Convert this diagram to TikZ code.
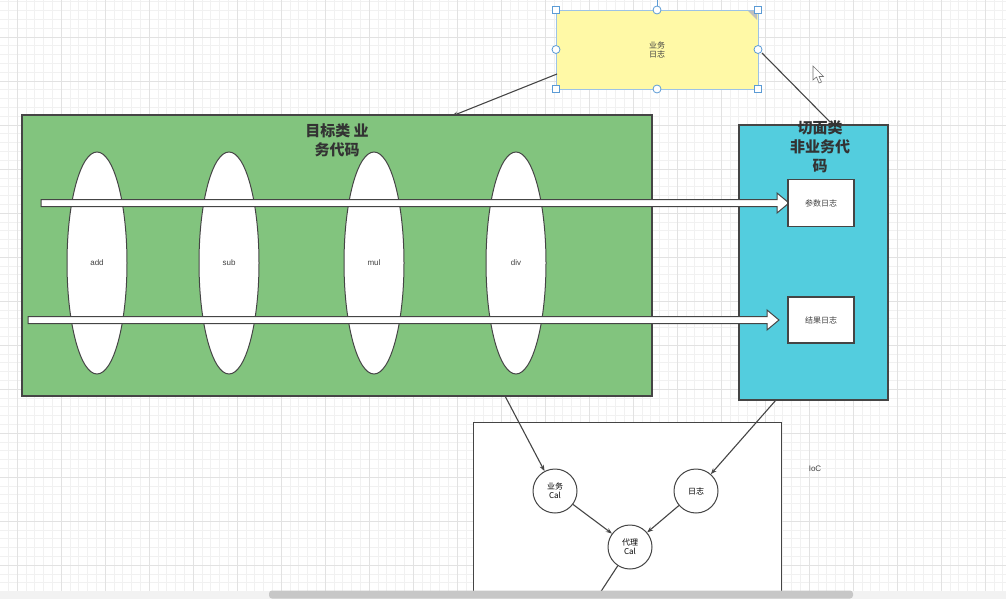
\documentclass[tikz,border=0pt]{standalone}
\usepackage{fontspec}
\setmainfont{Liberation Sans}
\newfontfamily\cjk{Noto Sans CJK SC}
\usetikzlibrary{arrows.meta}
\definecolor{gridminor}{HTML}{F1F1F1}
\definecolor{gridmajor}{HTML}{E2E2E2}
\definecolor{greenbox}{HTML}{82C47E}
\definecolor{cyanbox}{HTML}{53CDDE}
\definecolor{yellowbox}{HTML}{FFF9A6}
\definecolor{edge}{HTML}{454545}
\definecolor{handle}{HTML}{5B9BD5}
\tikzset{
  conn/.style={draw=edge, line width=1.1pt, -{Stealth[length=6pt,width=4.5pt]}},
  plainconn/.style={draw=edge, line width=1.1pt},
  bigbox/.style={draw=edge, line width=1.2pt},
  oval/.style={draw=edge, fill=white, line width=1pt},
  whitebox/.style={draw=edge, fill=white, line width=1.2pt},
  circ/.style={circle, draw=edge, fill=white, line width=1pt, minimum size=44pt, inner sep=0pt, align=center, font=\fontsize{8}{9}\selectfont\cjk},
  small/.style={font=\fontsize{8}{9}\selectfont\cjk, text=black!75, align=center},
  title/.style={font=\fontsize{15}{19}\selectfont\cjk\bfseries, text=black!80, align=center},
  hollow/.style={draw=edge, fill=white, line width=1pt},
  sqh/.style={draw=handle, fill=white, line width=0.8pt},
}
\begin{document}
\begin{tikzpicture}[x=1pt,y=-1pt]
\useasboundingbox (0,0) rectangle (1006,599);
\clip (0,0) rectangle (1006,599);
\fill[white] (0,0) rectangle (1006,599);
% grid
\foreach \i in {0,...,118} {
  \pgfmathsetmacro\gx{-27+8.8*\i}
  \draw[gridminor, line width=0.6pt] (\gx,0) -- (\gx,599);
}
\foreach \i in {0,...,70} {
  \pgfmathsetmacro\gy{-7+8.8*\i}
  \draw[gridminor, line width=0.6pt] (0,\gy) -- (1006,\gy);
}
\foreach \i in {0,...,24} {
  \pgfmathsetmacro\gx{-27+44*\i}
  \draw[gridmajor, line width=0.8pt] (\gx,0) -- (\gx,599);
}
\foreach \i in {0,...,14} {
  \pgfmathsetmacro\gy{-7+44*\i}
  \draw[gridmajor, line width=0.8pt] (0,\gy) -- (1006,\gy);
}

% green target class box
\draw[bigbox, fill=greenbox] (22,115) rectangle (652,396);
\node[title] (gtitle) at (337,140) {目标类 业\\务代码};
\coordinate (gtop) at (452,116);
\coordinate (gbot) at (505,396);

% ellipses
\draw[oval] (97,263) ellipse [x radius=30, y radius=111];
\draw[oval] (229,263) ellipse [x radius=30, y radius=111];
\draw[oval] (374,263) ellipse [x radius=30, y radius=111];
\draw[oval] (516,263) ellipse [x radius=30, y radius=111];
\node[small, font=\fontsize{8}{9}\selectfont] (add) at (97,263) {add};
\node[small, font=\fontsize{8}{9}\selectfont] (sub) at (229,263) {sub};
\node[small, font=\fontsize{8}{9}\selectfont] (mul) at (374,263) {mul};
\node[small, font=\fontsize{8}{9}\selectfont] (div) at (516,263) {div};

% cyan aspect box
\draw[bigbox, fill=cyanbox] (739,125) rectangle (888,400);
\node[title] (ctitle) at (820,147) {切面类\\非业务代\\码};
\coordinate (ctop) at (830,122);
\coordinate (cbot) at (776,400);

% hollow arrows
\draw[hollow] (41,199.5) -- (777,199.5) -- (777,193) -- (789,203) -- (777,213) -- (777,206.5) -- (41,206.5) -- cycle;
\draw[hollow] (28,316.5) -- (767,316.5) -- (767,310) -- (779,320) -- (767,330) -- (767,323.5) -- (28,323.5) -- cycle;

\node[whitebox, minimum width=66pt, minimum height=47pt, small] (param) at (821,203) {参数日志};
\node[whitebox, minimum width=66pt, minimum height=46pt, small] (result) at (821,320) {结果日志};

% yellow note box
\node[draw=handle!60, fill=yellowbox, line width=0.6pt, minimum width=202pt, minimum height=79pt, small] (biz) at (657,49.5) {业务\\日志};
\fill[black!25] (748,11) -- (757,11) -- (757,20) -- cycle;
\draw[handle, line width=0.8pt] (657,0) -- (657,10);
\foreach \p in {(556,10),(758,10),(556,89),(758,89)} {
  \draw[sqh] \p ++(-3.5,-3.5) rectangle ++(7,7);
}
\foreach \p in {(657,10),(657,89),(556,49.5),(758,49.5)} {
  \draw[sqh] \p circle (4);
}
\coordinate (bizL) at (557,74);
\coordinate (bizR) at (762,53);

% connectors from note
\draw[conn] (bizL) -- (gtop);
\draw[plainconn] (bizR) -- (ctop);

% IoC container box
\draw[bigbox, fill=white, line width=1pt] (473,422) rectangle (781,610);
\node[circ] (bcal) at (555,491) {业务\\Cal};
\node[circ] (log) at (696,491) {日志};
\node[circ] (pcal) at (630,547) {代理\\Cal};
\coordinate (pend) at (598,596);
\node[small, font=\fontsize{8}{9}\selectfont] (ioc) at (815,469) {IoC};

\draw[conn] (gbot) -- (bcal);
\draw[conn] (cbot) -- (log);
\draw[conn] (bcal) -- (pcal);
\draw[conn] (log) -- (pcal);
\draw[plainconn] (pcal) -- (pend);

% mouse cursor
\draw[fill=white, draw=black!55, line width=0.6pt] (813,66) -- (813,80) -- (816.5,77) -- (819,83) -- (821.5,82) -- (819,76.5) -- (823.5,76.5) -- cycle;

% scrollbar
\fill[black!5] (0,591) rectangle (1006,599);
\fill[black!22, rounded corners=3pt] (269,590.5) rectangle (853,598.5);
\end{tikzpicture}
\end{document}
